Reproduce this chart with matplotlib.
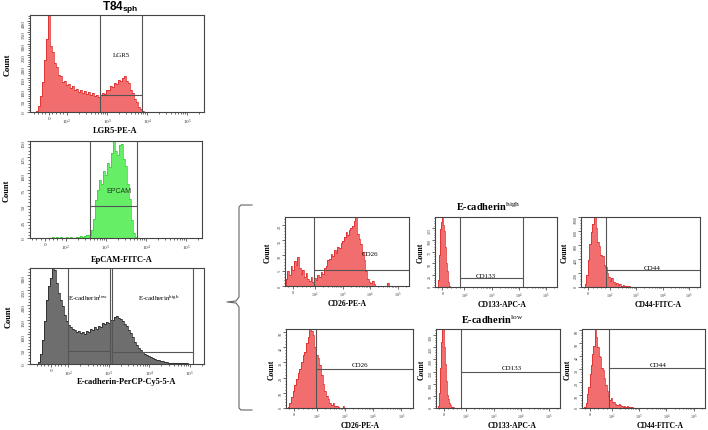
import numpy as np
import matplotlib
matplotlib.use("Agg")
import matplotlib.pyplot as plt
from matplotlib.lines import Line2D
from matplotlib.ticker import FixedLocator, FixedFormatter, MultipleLocator

plt.rcParams["font.family"] = ["Liberation Serif", "DejaVu Serif"]
plt.rcParams["mathtext.fontset"] = "custom"
plt.rcParams["mathtext.rm"] = "Liberation Serif"
plt.rcParams["mathtext.it"] = "Liberation Serif:italic"
plt.rcParams["mathtext.bf"] = "Liberation Serif:bold"
plt.rcParams["mathtext.sf"] = "Liberation Sans:bold"

# -----------------------------------------------------------------------
# Histogram counts.  Bins are evenly spaced on the
# biexponential display axis between the two span limits.
# -----------------------------------------------------------------------

lgr5_counts = [5, 25, 70, 130, 230, 320, 425, 290, 265, 215,
               195, 160, 158, 132, 138, 118, 124, 104, 112, 96,
               100, 88, 95, 82, 90, 78, 86, 74, 82, 70,
               76, 66, 74, 82, 80, 98, 96, 112, 110, 128,
               122, 140, 134, 150, 156, 138, 128, 98, 84, 56,
               44, 24, 12, 3]
lgr5_span = (-72, 8400)

epcam_counts = [0, 1, 0, 1, 0, 1, 0, 0, 1, 0,
                1, 0, 0, 1, 2, 3, 2, 3, 4, 5,
                5, 12, 30, 58, 74, 90, 84, 104, 98, 116,
                110, 132, 150, 134, 128, 144, 146, 122, 112, 84,
                60, 28, 8, 1]
epcam_span = (24, 5960)

ecad_counts = [8, 35, 80, 146, 215, 265, 290, 330, 318, 275,
               240, 218, 196, 165, 145, 132, 126, 118, 114, 108,
               112, 104, 108, 103, 112, 110, 118, 114, 124, 120,
               130, 126, 140, 134, 142, 138, 150, 148, 158, 162,
               156, 152, 146, 136, 128, 114, 104, 92, 76, 66,
               54, 46, 40, 34, 30, 26, 23, 20, 18, 15,
               12, 10, 9, 7, 7, 5, 5, 4, 4, 3,
               3, 2, 3, 2, 2, 1, 1, 0]
ecad_span = (-76, 125000)

cd26_hi_counts = [2.4, 5, 3.5, 6.7, 5.2, 8.3, 7, 9.6, 6, 4,
                  5.2, 3, 4.2, 2.4, 1.6, 3, 1.2, 2.6, 2, 3.6,
                  2.8, 4.6, 3.8, 5.8, 6.6, 8.4, 8.8, 10.6, 9.8, 11.8,
                  10.8, 12.8, 12.6, 14, 14.6, 16.2, 17.6, 16.8, 18.2, 19,
                  19.8, 21.4, 23, 17, 15.4, 13.6, 11, 8.4, 5, 2.4,
                  1.4, 1, 1.8, 0.6, 0, 0, 0, 0, 0, 0,
                  0, 1, 0]
cd26_hi_span = (-31, 54300)

cd133_hi_counts = [0, 15, 68, 123, 137, 148, 131, 118, 85, 50, 34, 18, 11, 3, 1]
cd133_hi_span = (-24, 40)

cd44_hi_counts = [0, 50, 170, 380, 610, 780, 900, 1010, 850, 640,
                  580, 460, 440, 320, 280, 200, 150, 80, 125, 70,
                  45, 60, 22, 40, 18, 30, 12, 20, 8, 14,
                  4, 0]
cd44_hi_span = (-25, 800)

cd26_lo_counts = [0.5, 3, 7, 11, 15, 19, 23, 26, 30, 35,
                  37, 43, 47, 53, 51, 48, 40, 35, 33, 28,
                  22, 16, 11, 8, 6, 3.5, 2, 3, 1.2, 1,
                  0.5, 0, 0, 1, 0]
cd26_lo_span = (-26, 1090)

cd133_lo_counts = [0, 8, 60, 165, 270, 330, 250, 180, 110, 55, 35, 20, 12, 6, 4, 1]
cd133_lo_span = (-30, 50)

cd44_lo_counts = [0.5, 4, 11, 16, 26, 33, 42, 48, 60, 55,
                  47, 40, 39, 31, 29, 23, 18, 13, 9, 6,
                  8, 5, 5, 3, 2.5, 2, 3, 2.5, 1.5, 1,
                  1.5, 1, 1.2, 0.8, 1, 0.5, 1, 0.3, 0]
cd44_lo_span = (-24, 760)

x_ticks = [0, 1e2, 1e3, 1e4, 1e5]
x_tick_labels = ["0", "$10^2$", "$10^3$", "$10^4$", "$10^5$"]

RED_FILL, RED_EDGE = "#f26d6d", "#d91f1f"
GREEN_FILL, GREEN_EDGE = "#66ee66", "#2fcf2f"
GREY_FILL, GREY_EDGE = "#6e6e6e", "#1c1c1c"
GATE = "#555555"

SMALL_XLIM = (-34, 257000)
SMALL_LS = 0.73

W, H = 708, 431
fig = plt.figure(figsize=(W / 100, H / 100), dpi=100)


def px_rect(l, t, r, b):
    return [l / W, 1 - b / H, (r - l) / W, (b - t) / H]


def flow_hist(box, counts, span, fill, edge, linscale, xlim, ytop, ystep,
              xlabel, ylab_x, xlab_xy, fs=6.0, tick_fs=3.7, tick_len=2.5):
    """One flow cytometry histogram on a biexponential-like axis."""
    l, t, r, b = box
    ax = fig.add_axes(px_rect(l, t, r, b))
    ax.set_xscale("symlog", linthresh=100, linscale=linscale)
    ax.set_xlim(*xlim)
    ax.set_ylim(0, ytop)

    tr = ax.xaxis.get_transform()
    lo, hi = tr.transform(np.array(span, dtype=float))
    edges = tr.inverted().transform(np.linspace(lo, hi, len(counts) + 1))
    ax.stairs(counts, edges, fill=True, color=fill, linewidth=0)
    ax.stairs(counts, edges, color=edge, linewidth=0.5)

    minor = [v for v in range(-80, 100, 20) if v != 0 and v > xlim[0]]
    minor += [k * 10.0 ** d for d in range(2, 6) for k in range(2, 10)
              if k * 10.0 ** d < xlim[1]]
    ax.xaxis.set_major_locator(FixedLocator(x_ticks))
    ax.xaxis.set_major_formatter(FixedFormatter(x_tick_labels))
    ax.xaxis.set_minor_locator(FixedLocator(minor))
    ax.yaxis.set_major_locator(MultipleLocator(ystep))
    ax.yaxis.set_minor_locator(MultipleLocator(ystep / 5))
    ax.tick_params(which="both", direction="out", width=0.5,
                   colors="#333333", labelsize=tick_fs)
    ax.tick_params(which="major", length=tick_len, pad=0.6)
    ax.tick_params(which="minor", length=tick_len / 2)
    ax.tick_params(axis="y", labelrotation=90, pad=0.5)
    for s in ax.spines.values():
        s.set_linewidth(0.8)
        s.set_color("#444444")

    ax.set_ylabel("Count", fontsize=fs, fontweight="bold")
    ax.yaxis.label.set_va("center")
    ax.yaxis.set_label_coords((ylab_x - l) / (r - l), 0.5)
    ax.set_xlabel(xlabel, fontsize=fs, fontweight="bold")
    ax.xaxis.label.set_va("center")
    ax.xaxis.set_label_coords((xlab_xy[0] - l) / (r - l), (b - xlab_xy[1]) / (b - t))
    return ax


def gate(ax, x1, x2, y, right_line=True):
    ax.axvline(x1, color=GATE, lw=0.8)
    if right_line:
        ax.axvline(x2, color=GATE, lw=0.8)
    ax.hlines(y, x1, x2, color=GATE, lw=0.8)


# -----------------------------------------------------------------------
# Left column
# -----------------------------------------------------------------------

ax1 = flow_hist((30, 16, 204, 113), lgr5_counts, lgr5_span, RED_FILL, RED_EDGE,
                0.405, (-104, 262000), 425, 50, "LGR5-PE-A", 8, (115, 131))
gate(ax1, 670, 7500, 75)
ax1.text(2240, 254, "LGR5", fontsize=5, ha="center", va="center")

ax2 = flow_hist((30, 142, 202, 239), epcam_counts, epcam_span, GREEN_FILL, GREEN_EDGE,
                0.47, (-71, 250000), 150, 25, "EpCAM-FITC-A", 7, (122, 260))
gate(ax2, 400, 5900, 50)
ax2.text(2100, 73, "EPCAM", fontsize=5, ha="center", va="center",
         family="Liberation Sans", color="#1f3a1f")

ax3 = flow_hist((30, 269, 204, 365), ecad_counts, ecad_span, GREY_FILL, GREY_EDGE,
                0.38, (-126, 224000), 325, 50, "E-cadherin-PerCP-Cy5-5-A", 9, (127, 382))
gate(ax3, 100, 1050, 43)
gate(ax3, 1200, 118000, 39)
ax3.text(310, 227, r"E-cadherin$^{\mathrm{low}}$", fontsize=5, ha="center", va="center")
ax3.text(16700, 227, r"E-cadherin$^{\mathrm{high}}$", fontsize=5, ha="center", va="center")

fig.text(120 / W, 1 - 8 / H, r"$\mathsf{T84}_{\mathsf{sph}}$", fontsize=8.5,
         ha="center", va="center")

# -----------------------------------------------------------------------
# Right block: E-cadherin high (top) and low (bottom)
# -----------------------------------------------------------------------

small = dict(fs=5.5, tick_fs=3, tick_len=2)

ax4 = flow_hist((285, 218, 409, 287), cd26_hi_counts, cd26_hi_span, RED_FILL, RED_EDGE,
                SMALL_LS, SMALL_XLIM, 22.6, 5, "CD26-PE-A", 268, (347, 304), **small)
gate(ax4, 95, SMALL_XLIM[1], 5.3, right_line=False)
ax4.text(9800, 10.5, "CD26", fontsize=5, ha="center", va="center")

ax5 = flow_hist((435, 218, 557, 288), cd133_hi_counts, cd133_hi_span, RED_FILL, RED_EDGE,
                SMALL_LS, SMALL_XLIM, 148, 25, "CD133-APC-A", 421, (502, 305), **small)
gate(ax5, 80, 13800, 18)
ax5.text(630, 19, "CD133", fontsize=5, ha="center", va="bottom")

ax6 = flow_hist((581, 218, 700, 288), cd44_hi_counts, cd44_hi_span, RED_FILL, RED_EDGE,
                SMALL_LS, SMALL_XLIM, 1000, 200, "CD44-FITC-A", 565, (658, 305), **small)
gate(ax6, 84, SMALL_XLIM[1], 236, right_line=False)
ax6.text(3900, 245, "CD44", fontsize=5, ha="center", va="bottom")

ax7 = flow_hist((286, 330, 413, 409), cd26_lo_counts, cd26_lo_span, RED_FILL, RED_EDGE,
                SMALL_LS, SMALL_XLIM, 52, 10, "CD26-PE-A", 272, (360, 426), **small)
gate(ax7, 95, SMALL_XLIM[1], 26, right_line=False)
ax7.text(3300, 27, "CD26", fontsize=5, ha="center", va="bottom")

ax8 = flow_hist((436, 330, 560, 409), cd133_lo_counts, cd133_lo_span, RED_FILL, RED_EDGE,
                SMALL_LS, SMALL_XLIM, 325, 50, "CD133-APC-A", 422, (512, 426), **small)
gate(ax8, 78, SMALL_XLIM[1], 148, right_line=False)
ax8.text(4600, 155, "CD133", fontsize=5, ha="center", va="bottom")

ax9 = flow_hist((582, 330, 705, 409), cd44_lo_counts, cd44_lo_span, RED_FILL, RED_EDGE,
                SMALL_LS, SMALL_XLIM, 61, 10, "CD44-FITC-A", 568, (660, 426), **small)
gate(ax9, 87, SMALL_XLIM[1], 31, right_line=False)
ax9.text(5000, 32, "CD44", fontsize=5, ha="center", va="bottom")

fig.text(488 / W, 1 - 207 / H, r"E-cadherin$^{\mathrm{high}}$", fontsize=7.5,
         fontweight="bold", ha="center", va="center")
fig.text(492 / W, 1 - 320 / H, r"E-cadherin$^{\mathrm{low}}$", fontsize=7.5,
         fontweight="bold", ha="center", va="center")

# curly bracket joining the E-cadherin gates to the right block
bx = [252, 241, 239, 239, 236, 227, 236, 239, 239, 241, 252]
by = [206, 206, 208, 298, 302, 303, 304, 308, 409, 411, 411]
fig.add_artist(Line2D([v / W for v in bx], [1 - v / H for v in by],
                      color="#666666", lw=0.8, transform=fig.transFigure))

fig.savefig("out.png", dpi=100, facecolor="white")
